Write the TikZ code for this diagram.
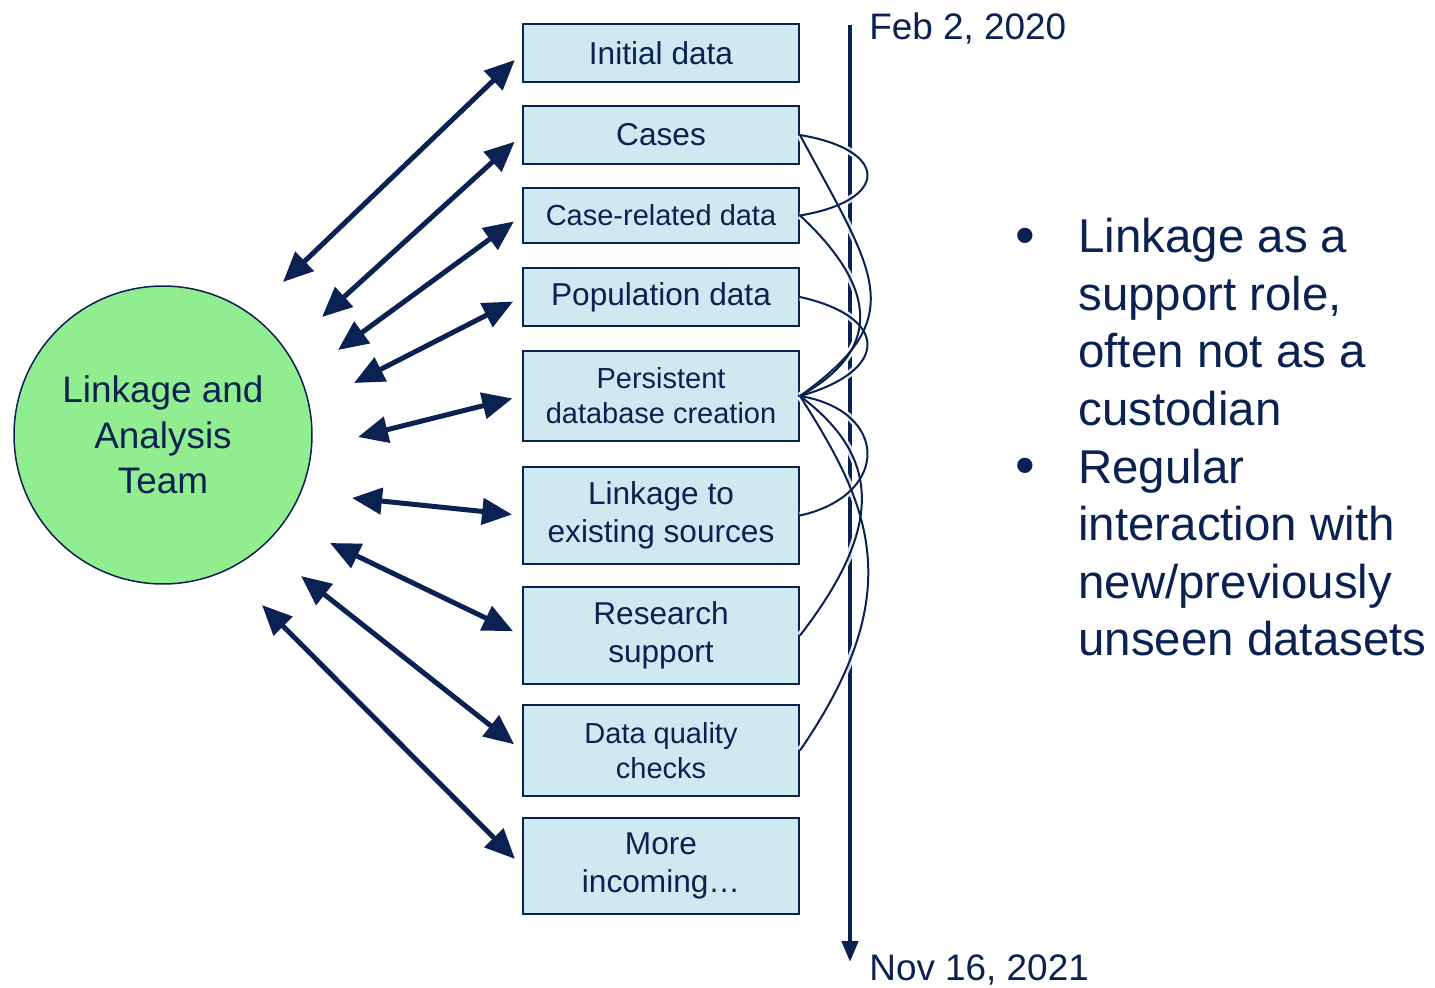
\documentclass[tikz,border=0pt]{standalone}
\usepackage{fontspec}
\setmainfont{Liberation Sans}
\usetikzlibrary{arrows.meta}
\definecolor{navy}{HTML}{0B2151}
\definecolor{boxblue}{HTML}{CFE9F0}
\definecolor{teamgreen}{HTML}{90EE90}
\newcommand\linklist{cases/caserel/90/15/90/-15, cases/persist/75/140/112/-80, caserel/persist/70/65/90/-50, pop/persist/90/20/90/-25, persist/linkage/90/15/90/-20, persist/research/80/60/85/-110, persist/dq/70/110/110/-160}
\begin{document}
\begin{tikzpicture}[x=0.02cm,y=-0.02cm,
 taskbox/.style={draw=navy,line width=0.04cm,fill=boxblue,text=navy,minimum width=5.52cm,align=center,inner sep=0,font=\fontsize{18}{21.6}\selectfont},
 smallbox/.style={taskbox,font=\fontsize{16.5}{19.8}\selectfont},
 team/.style={circle,draw=navy,line width=0.03cm,fill=teamgreen,text=navy,minimum size=5.96cm,inner sep=0,align=center,font=\fontsize{21}{25.9}\selectfont},
 twoway/.style={{Triangle[length=0.6cm,width=0.52cm]}-{Triangle[length=0.6cm,width=0.52cm]},line width=0.1cm,draw=navy,shorten >=0.2cm},
 halo/.style={draw=white,line width=0.14cm,opacity=0.85},
 datalink/.style={draw=navy,line width=0.04cm},
 date/.style={text=navy,anchor=base west,inner sep=0,font=\fontsize{21}{25}\selectfont},
 bulletmark/.style={text=navy,inner sep=0,font=\fontsize{32}{32.7}\selectfont},
 bullettext/.style={text=navy,anchor=north west,inner sep=0,align=left,font=\fontsize{27}{32.7}\selectfont}]
 \useasboundingbox (0,0) rectangle (1435,987);
 \node[taskbox,minimum height=1.16cm] (initial) at (661,53) {Initial data};
 \node[taskbox,minimum height=1.16cm] (cases) at (661,135) {Cases};
 \node[smallbox,minimum height=1.1cm] (caserel) at (661,215.5) {Case-related data};
 \node[taskbox,minimum height=1.16cm] (pop) at (661,297) {Population data};
 \node[smallbox,minimum height=1.8cm] (persist) at (661,396) {Persistent\\database creation};
 \node[taskbox,minimum height=1.94cm] (linkage) at (661,515.5) {Linkage to\\existing sources};
 \node[taskbox,minimum height=1.94cm] (research) at (661,635.5) {Research\\support};
 \node[smallbox,minimum height=1.82cm] (dq) at (661,750.5) {Data quality\\checks};
 \node[taskbox,minimum height=1.92cm] (more) at (661,866) {More\\incoming…};
 \node[team] (lat) at (163,435) {Linkage and\\Analysis\\Team};
 \coordinate (t1) at (283,282);
 \coordinate (t2) at (322,317);
 \coordinate (t3) at (338,350);
 \coordinate (t4) at (354,383);
 \coordinate (t5) at (358,437);
 \coordinate (t6) at (352,498);
 \coordinate (t7) at (330,543);
 \coordinate (t8) at (301,576);
 \coordinate (t9) at (262,605);
 \foreach \t/\b in {t1/initial,t2/cases,t3/caserel,t4/pop,t5/persist,t6/linkage,t7/research,t8/dq,t9/more}
  \draw[twoway] (\t) -- (\b.west);
 \coordinate (first) at (850,25);
 \coordinate (last) at (850,962);
 \draw[navy,line width=0.09cm,-{Triangle[length=0.42cm,width=0.32cm]}] (first) -- (last);
 \node[date] (feb) at (869,39) {Feb 2, 2020};
 \node[date] (nov) at (869,980) {Nov 16, 2021};
 \foreach \a/\b/\p/\q/\r/\s in \linklist
  \draw[halo] (\a.east) .. controls +(\p,\q) and +(\r,\s) .. (\b.east);
 \foreach \a/\b/\p/\q/\r/\s in \linklist
  \draw[datalink] (\a.east) .. controls +(\p,\q) and +(\r,\s) .. (\b.east);
 \node[bulletmark] (m1) at (1025,241) {•};
 \node[bullettext] (b1) at (1078,218) {Linkage as a\\support role,\\often not as a\\custodian};
 \node[bulletmark] (m2) at (1025,471) {•};
 \node[bullettext] (b2) at (1078,448.4) {Regular\\interaction with\\new/previously\\unseen datasets};
\end{tikzpicture}
\end{document}
